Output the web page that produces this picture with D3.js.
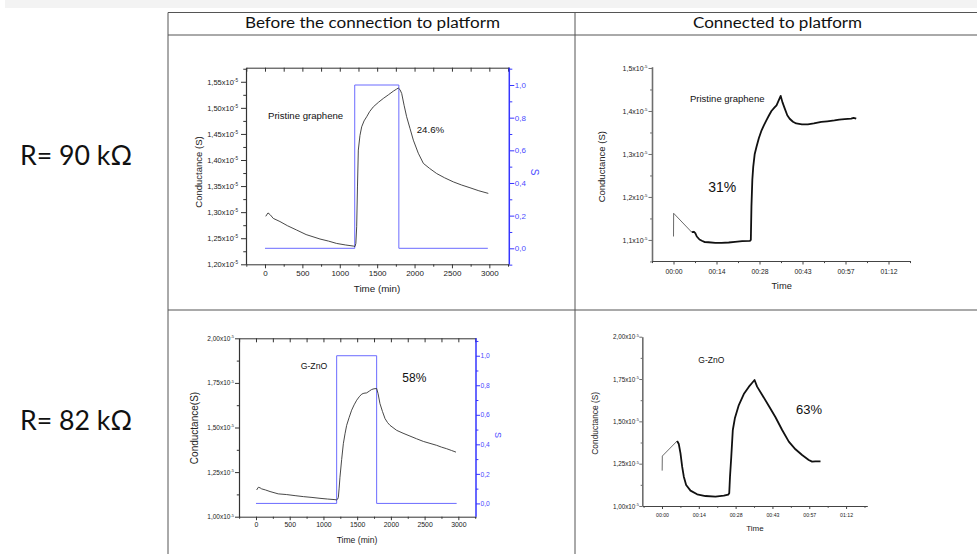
<!DOCTYPE html>
<html><head><meta charset="utf-8">
<script src="https://cdn.jsdelivr.net/npm/d3@7"></script>
<style>body{margin:0;background:#fff}svg{display:block}</style>
</head><body><svg id="c" width="977" height="554"></svg>
<script>
// ---------------- DATA ----------------
const headers = ["Before the connection to platform", "Connected to platform"];
const rowLabels = ["R= 90 kΩ", "R= 82 kΩ"];

// Top-left: pristine graphene, before connection (time in min, conductance x1e-5 S)
const tlTime = [10,40,70,111,200,300,423,550,735,850,958,1080,1181,1203,1215,1226,1237,1248,1270,1293,1325,1360,1400,1449,1520,1582,1650,1716,1760,1783,1805,1828,1860,1894,1940,1984,2050,2118,2200,2296,2400,2519,2630,2741,2860,2986];
const tlCond = [1.292,1.2985,1.295,1.288,1.282,1.274,1.2657,1.257,1.2485,1.2445,1.240,1.237,1.235,1.234,1.240,1.272,1.350,1.419,1.447,1.4636,1.475,1.483,1.493,1.502,1.511,1.518,1.525,1.532,1.536,1.538,1.535,1.5276,1.505,1.483,1.460,1.438,1.413,1.3935,1.384,1.374,1.366,1.358,1.352,1.3468,1.341,1.336];
const tlStepTime = [0,1200,1200,1790,1790,2980];
const tlStepS = [0,0,1,1,0,0];

// Top-right: pristine graphene, connected (time in min)
const trTime = [0,0.05,6.1,6.8,7.3,7.8,8.7,9.5,10.5,11.7,14,16.1,18.5,20.6,23,25.6,25.9,26.1,26.4,26.7,27.2,27.8,28.6,29.5,30.3,31.1,32,32.8,33.7,34.5,35.2,35.9,36.5,37.3,38.1,38.9,40,41.1,43,45,47,49.5,51.5,53.9,55.5,57.3,59.5,60.3,61.2];
const trCond = [1.108,1.162,1.118,1.119,1.116,1.108,1.101,1.098,1.095,1.0946,1.093,1.093,1.094,1.0954,1.097,1.098,1.100,1.177,1.240,1.270,1.300,1.3166,1.337,1.355,1.367,1.378,1.390,1.400,1.407,1.413,1.424,1.435,1.420,1.405,1.390,1.382,1.375,1.371,1.369,1.369,1.371,1.3746,1.376,1.378,1.380,1.381,1.3823,1.384,1.382];

// Bottom-left: G-ZnO, before connection
const blTime = [10,35,60,84,140,208,330,455,580,702,830,949,1060,1171,1196,1210,1221,1233,1245,1270,1295,1320,1344,1380,1418,1455,1493,1530,1567,1600,1641,1680,1715,1750,1789,1810,1838,1875,1913,1950,1987,2086,2180,2283,2380,2481,2580,2679,2750,2827,2900,2965];
const blCond = [1.150,1.165,1.162,1.156,1.150,1.141,1.128,1.124,1.118,1.1126,1.108,1.103,1.099,1.0957,1.094,1.098,1.109,1.160,1.221,1.320,1.409,1.465,1.512,1.555,1.597,1.627,1.653,1.672,1.687,1.692,1.694,1.704,1.713,1.717,1.7186,1.690,1.634,1.590,1.550,1.528,1.512,1.484,1.468,1.452,1.437,1.422,1.411,1.400,1.390,1.381,1.371,1.362];
const blStepTime = [0,1196,1196,1789,1789,2975];
const blStepS = [0,0,1,1,0,0];

// Bottom-right: G-ZnO, connected (time in min)
const brTime = [0.07,0.13,5.93,6.58,7.24,7.89,8.54,9.45,11.15,13.75,17.0,20.9,24.2,25.9,26.3,26.6,27.1,27.7,28.5,30.05,32.0,34.0,35.3,36.2,37.2,39.2,41.8,44.4,47.0,49.6,52.2,54.8,57.4,58.7,60.0,62.0];
const brCond = [1.209,1.295,1.384,1.366,1.311,1.232,1.173,1.124,1.091,1.069,1.059,1.055,1.061,1.067,1.075,1.173,1.291,1.449,1.518,1.596,1.661,1.705,1.728,1.744,1.705,1.656,1.591,1.524,1.449,1.380,1.335,1.301,1.272,1.262,1.264,1.264];

// Ticks
const tlYTicks = [1.20,1.25,1.30,1.35,1.40,1.45,1.50,1.55];
const tlYLabels = ["1,20","1,25","1,30","1,35","1,40","1,45","1,50","1,55"];
const trYTicks = [1.1,1.2,1.3,1.4,1.5];
const trYLabels = ["1,1","1,2","1,3","1,4","1,5"];
const gYTicks = [1.00,1.25,1.50,1.75,2.00];
const gYLabels = ["1,00","1,25","1,50","1,75","2,00"];
const minXTicks = [0,500,1000,1500,2000,2500,3000];
const minXLabels = ["0","500","1000","1500","2000","2500","3000"];
const clockTicks = [0,14.4,28.8,43.2,57.6,72];
const clockLabels = ["00:00","00:14","00:28","00:43","00:57","01:12"];
const sTicks = [0,0.2,0.4,0.6,0.8,1.0];
const sLabels = ["0,0","0,2","0,4","0,6","0,8","1,0"];
const expLabel = "-5";

// ---------------- DRAW ----------------
const FONT = "'Liberation Sans', Arial, Helvetica, sans-serif";
const HFONT = "Lato, 'Open Sans', sans-serif";
const svg = d3.select("#c");
svg.append("rect").attr("width",977).attr("height",554).attr("fill","#fff");
svg.append("rect").attr("x",5).attr("y",0).attr("width",972).attr("height",8).attr("fill","#f3f3f3");

// table
const tcol = "#555";
[[168,12.5,977,12.5],[168,35,977,35],[168,310,977,310],[168,12.5,168,554],[575,12.5,575,554]].forEach(l=>{
  svg.append("line").attr("x1",l[0]).attr("y1",l[1]).attr("x2",l[2]).attr("y2",l[3]).attr("stroke",tcol).attr("stroke-width",1);
});
const hdrPos = [[372.5,255],[777.5,169]];
headers.forEach((h,i)=>{
  svg.append("text").attr("x",hdrPos[i][0]).attr("y",28).attr("text-anchor","middle")
    .attr("font-family",HFONT).attr("font-size",15.5).attr("fill","#111")
    .attr("textLength",hdrPos[i][1]).attr("lengthAdjust","spacingAndGlyphs").text(h);
});
const rowY = [165,430];
rowLabels.forEach((r,i)=>{
  svg.append("text").attr("x",20).attr("y",rowY[i]).attr("font-family",HFONT).attr("font-size",26)
    .attr("fill","#111").attr("textLength",112).attr("lengthAdjust","spacingAndGlyphs").text(r);
});

function mids(arr, dom){
  const out=[]; const st = arr[1]-arr[0];
  const lo=Math.min(dom[0],dom[1]), hi=Math.max(dom[0],dom[1]), tol=Math.abs(st)*0.03;
  for(let k=-1;k<arr.length;k++){ const v = arr[0]+st*(k+0.5); if(v>=lo-tol && v<=hi+tol) out.push(v); }
  return out;
}

function styleAx(g, color, w, fs, fcol){
  g.attr("font-family",FONT).attr("font-size",fs);
  g.select(".domain").attr("stroke",color).attr("stroke-width",w);
  g.selectAll(".tick line").attr("stroke",color).attr("stroke-width",Math.min(w,1));
  g.selectAll(".tick text").attr("fill",fcol);
}

function expLabels(g, labels, fs){
  g.selectAll(".tick text").text(null).each(function(d,i){
    const t = d3.select(this);
    t.append("tspan").text(labels[i]+"x10");
    t.append("tspan").attr("dy",-fs*0.42).attr("font-size",fs*0.62).text(expLabel);
  });
}

function panel(o){
  const g = svg.append("g");
  const x = d3.scaleLinear().domain(o.xDom).range([o.L,o.R]);
  const y = d3.scaleLinear().domain(o.yDom).range([o.B,o.T]);
  const axCol = o.axCol;

  // left axis
  const gl = g.append("g").attr("transform",`translate(${o.L},0)`)
    .call(d3.axisLeft(y).tickValues(o.yTicks).tickSize(o.yTs).tickSizeOuter(0).tickPadding(o.yPad));
  styleAx(gl, axCol, o.leftW, o.yFs, "#222");
  expLabels(gl, o.yLabels, o.yFs);
  const glm = g.append("g").attr("transform",`translate(${o.L},0)`)
    .call(d3.axisLeft(y).tickValues(mids(o.yTicks,o.yDom)).tickSize(o.yTs*0.55).tickFormat(""));
  glm.select(".domain").remove(); glm.selectAll("line").attr("stroke",axCol);

  // bottom axis
  const gb = g.append("g").attr("transform",`translate(0,${o.B})`)
    .call(d3.axisBottom(x).tickValues(o.xTicks).tickSize(o.xTs).tickSizeOuter(0).tickPadding(o.xPad)
      .tickFormat((d,i)=>o.xLabels[i]));
  styleAx(gb, o.botCol, 1, o.xFs, "#222");
  const gbm = g.append("g").attr("transform",`translate(0,${o.B})`)
    .call(d3.axisBottom(x).tickValues(mids(o.xTicks,o.xDom)).tickSize(o.xTs*0.6).tickFormat(""));
  gbm.select(".domain").remove(); gbm.selectAll("line").attr("stroke",o.botCol);

  if(o.frame){
    // top frame with inward ticks
    const gt = g.append("g").attr("transform",`translate(0,${o.T})`)
      .call(d3.axisBottom(x).tickValues(o.xTicks.concat(mids(o.xTicks,o.xDom))).tickSize(4).tickSizeOuter(0).tickFormat(""));
    gt.select(".domain").attr("stroke",o.botCol); gt.selectAll("line").attr("stroke",o.botCol);
    // right blue axis
    const s = d3.scaleLinear().domain(o.sDom).range([o.B,o.T]);
    const gr = g.append("g").attr("transform",`translate(${o.R},0)`)
      .call(d3.axisRight(s).tickValues(sTicks).tickSize(o.sTs).tickSizeOuter(0).tickPadding(0.5)
        .tickFormat((d,i)=>sLabels[i]));
    styleAx(gr, "#3535ff", 1.5, o.sFs, "#4a4aff");
    gr.select(".domain").attr("d",`M0,${o.B}V${o.T}`);
    const grm = g.append("g").attr("transform",`translate(${o.R},0)`)
      .call(d3.axisRight(s).tickValues(mids(sTicks,o.sDom)).tickSize(o.sTs*0.6).tickFormat(""));
    grm.select(".domain").remove(); grm.selectAll("line").attr("stroke","#3535ff");
    // step line
    const idx = d3.range(o.stepT.length);
    g.append("path").attr("fill","none").attr("stroke","#6b6bff").attr("stroke-width",1)
      .attr("d", d3.line().x(i=>x(o.stepT[i])).y(i=>s(o.stepS[i]))(idx));
    // S label
    g.append("text").attr("transform",`translate(${o.sLab[0]},${o.sLab[1]}) rotate(90)`)
      .attr("text-anchor","middle").attr("dominant-baseline","central")
      .attr("font-family",FONT).attr("font-size",o.sLab[2]).attr("fill","#4a4aff").text("S");
  }

  // data
  const line = d3.line().x(i=>x(o.time[i])).y(i=>y(o.cond[i]));
  const n = o.time.length;
  if(o.thinUntil>0){
    g.append("path").attr("fill","none").attr("stroke","#444").attr("stroke-width",0.8)
      .attr("d", line(d3.range(0,o.thinUntil+1)));
  }
  g.append("path").attr("fill","none").attr("stroke",o.lineCol).attr("stroke-width",o.lineW)
    .attr("stroke-linejoin","round").attr("d", line(d3.range(o.thinUntil,n)));

  // titles
  g.append("text").attr("transform",`translate(${o.yTitle[0]},${o.yTitle[1]}) rotate(-90)`)
    .attr("text-anchor","middle").attr("dominant-baseline","central")
    .attr("font-family",FONT).attr("font-size",o.yTitle[2]).attr("fill","#222").text(o.yTitle[3]);
  g.append("text").attr("x",o.xTitle[0]).attr("y",o.xTitle[1]).attr("text-anchor","middle")
    .attr("font-family",FONT).attr("font-size",o.xTitle[2]).attr("fill","#222").text(o.xTitle[3]);
  o.notes.forEach(nt=>{
    g.append("text").attr("x",nt[0]).attr("y",nt[1]).attr("font-family",FONT).attr("font-size",nt[2])
      .attr("fill","#111").text(nt[3]);
  });
}

panel({L:246,R:509.3,T:67.7,B:264.3,xDom:[-254,3267],yDom:[1.20,1.577],sDom:[-0.098,1.106],
  time:tlTime,cond:tlCond,stepT:tlStepTime,stepS:tlStepS,frame:true,thinUntil:0,lineCol:"#333",lineW:0.9,
  yTicks:tlYTicks,yLabels:tlYLabels,yTs:5,yPad:3,yFs:7.5,leftW:1.2,axCol:"#333",botCol:"#333",
  xTicks:minXTicks,xLabels:minXLabels,xTs:4,xPad:2.5,xFs:8,sTs:5,sFs:8,
  sLab:[534,172,10],yTitle:[198,172,9.5,"Conductance (S)"],xTitle:[377,291.5,9.8,"Time (min)"],
  notes:[[268,118.5,9.6,"Pristine graphene"],[416.7,132.5,9.7,"24.6%"]]});

panel({L:652,R:910,T:66.7,B:261,xDom:[-7.2,79.2],yDom:[1.051,1.503],
  time:trTime,cond:trCond,frame:false,thinUntil:2,lineCol:"#111",lineW:1.8,
  yTicks:trYTicks,yLabels:trYLabels,yTs:3.5,yPad:1,yFs:7,leftW:1.6,axCol:"#6e6e6e",botCol:"#444",
  xTicks:clockTicks,xLabels:clockLabels,xTs:3.5,xPad:4.7,xFs:6.8,
  yTitle:[601.7,166.7,9.5,"Conductance (S)"],xTitle:[781.7,289,9.3,"Time"],
  notes:[[690,101.7,9.5,"Pristine graphene"],[708.3,191.7,14,"31%"]]});

panel({L:239,R:476,T:338.3,B:516.7,xDom:[-252,3262],yDom:[1.00,2.00],sDom:[-0.09,1.118],
  time:blTime,cond:blCond,stepT:blStepTime,stepS:blStepS,frame:true,thinUntil:0,lineCol:"#333",lineW:0.9,
  yTicks:gYTicks,yLabels:gYLabels,yTs:4,yPad:1,yFs:6.5,leftW:1.2,axCol:"#333",botCol:"#333",
  xTicks:minXTicks,xLabels:minXLabels,xTs:3.5,xPad:1.6,xFs:6.9,sTs:4,sFs:6.7,
  sLab:[498.3,435,9],yTitle:[194,428,10,"Conductance(S)"],xTitle:[357,543,8.6,"Time (min)"],
  notes:[[300.7,368.8,8.7,"G-ZnO"],[402.3,382.3,12,"58%"]]});

panel({L:642.3,R:867.3,T:336.7,B:506,xDom:[-7.7,80.3],yDom:[1.00,2.00],
  time:brTime,cond:brCond,frame:false,thinUntil:2,lineCol:"#111",lineW:1.8,
  yTicks:gYTicks,yLabels:gYLabels,yTs:3,yPad:0.5,yFs:6.3,leftW:1.6,axCol:"#6e6e6e",botCol:"#444",
  xTicks:clockTicks,xLabels:clockLabels,xTs:3,xPad:4.4,xFs:5.2,
  yTitle:[595,423.3,8.4,"Conductance (S)"],xTitle:[755,530.5,8,"Time"],
  notes:[[698.3,363,8.5,"G-ZnO"],[796,414,13,"63%"]]});
</script></body></html>
